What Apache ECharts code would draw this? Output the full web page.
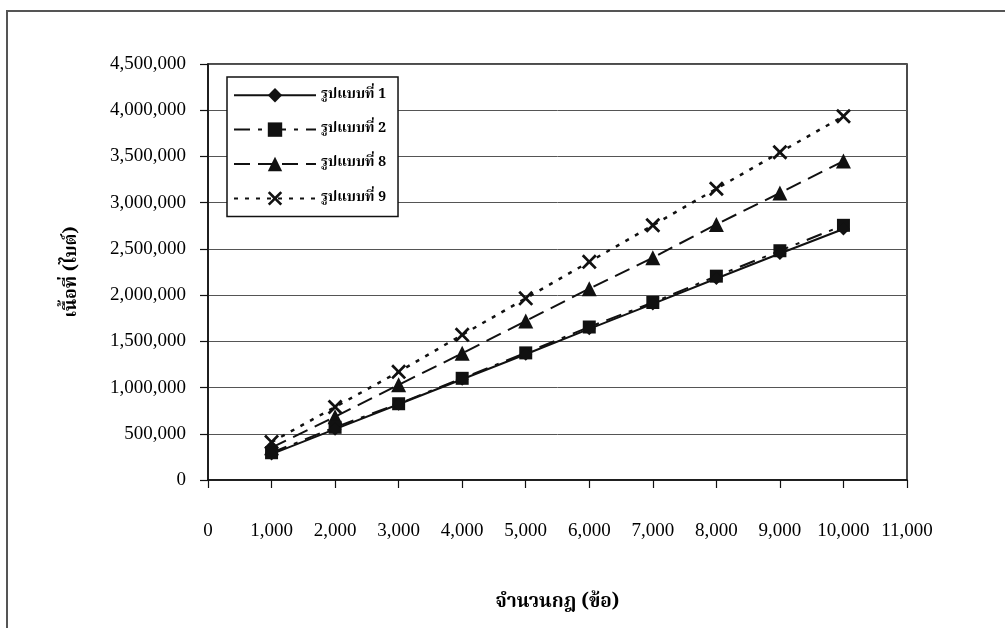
<!DOCTYPE html>
<html>
<head>
<meta charset="utf-8">
<script src="https://cdn.jsdelivr.net/npm/echarts@6/dist/echarts.min.js"></script>
<style>
  html, body { margin: 0; padding: 0; background: #fff; }
  #chart { width: 1005px; height: 628px; }
</style>
</head>
<body>
<div id="chart"></div>
<script>
// Number of rules (x) and memory used in bytes (y) for each pattern
const ruleCounts = [1000, 2000, 3000, 4000, 5000, 6000, 7000, 8000, 9000, 10000];
const pattern1 = [280000, 550000, 820000, 1090000, 1360000, 1635000, 1905000, 2180000, 2450000, 2715000];
const pattern2 = [295000, 570000, 825000, 1100000, 1375000, 1655000, 1920000, 2205000, 2480000, 2755000];
const pattern8 = [350000, 685000, 1030000, 1370000, 1720000, 2070000, 2405000, 2765000, 3105000, 3450000];
const pattern9 = [410000, 790000, 1170000, 1570000, 1965000, 2360000, 2755000, 3150000, 3545000, 3935000];

const seriesNames = ['รูปแบบที่ 1', 'รูปแบบที่ 2', 'รูปแบบที่ 8', 'รูปแบบที่ 9'];
const xAxisTitle = 'จำนวนกฎ (ข้อ)';
const yAxisTitle = 'เนื้อที่ (ไบต์)';

const xTickLabels = ['0', '1,000', '2,000', '3,000', '4,000', '5,000', '6,000', '7,000', '8,000', '9,000', '10,000', '11,000'];
const yTickLabels = ['0', '500,000', '1,000,000', '1,500,000', '2,000,000', '2,500,000', '3,000,000', '3,500,000', '4,000,000', '4,500,000'];

const SERIF = '"Liberation Serif", "DejaVu Serif", "Noto Serif Thai", "Noto Sans Thai", serif';
const THAI = '"Noto Serif Thai", "Noto Sans Thai", "Liberation Serif", serif';

const pairs = ys => ruleCounts.map((x, i) => [x, ys[i]]);

// filled X-shaped cross
const crossPath = 'path://M0,1.3 L1.3,0 L5,3.7 L8.7,0 L10,1.3 L6.3,5 L10,8.7 L8.7,10 L5,6.3 L1.3,10 L0,8.7 L3.7,5 Z';

const chart = echarts.init(document.getElementById('chart'), null, { renderer: 'canvas' });

chart.setOption({
  backgroundColor: '#fff',
  animation: false,
  graphic: [{
    type: 'rect',
    shape: { x: 7, y: 11, width: 1100, height: 700 },
    style: { fill: 'none', stroke: '#555', lineWidth: 2 },
    silent: true
  }],
  grid: {
    left: 208, right: 98, top: 64, bottom: 148,
    show: true, borderColor: '#111', borderWidth: 1.5, backgroundColor: 'transparent'
  },
  legend: {
    orient: 'vertical',
    left: 227, top: 77,
    data: seriesNames,
    itemWidth: 82, itemHeight: 18, itemGap: 20,
    padding: [11, 12, 11, 6],
    backgroundColor: '#fff',
    borderColor: '#111', borderWidth: 1.5,
    textStyle: { fontFamily: THAI, fontSize: 14, fontWeight: 'bold', color: '#000' }
  },
  xAxis: {
    type: 'value',
    min: 0, max: 11000, interval: 1000,
    name: xAxisTitle,
    nameLocation: 'middle',
    nameGap: 114,
    nameTextStyle: { fontFamily: THAI, fontSize: 19, fontWeight: 'bold', color: '#000' },
    axisLine: { show: true, lineStyle: { color: '#111', width: 1.5 } },
    axisTick: { show: true, length: 8, lineStyle: { color: '#111', width: 1.2 } },
    axisLabel: {
      margin: 42,
      fontFamily: SERIF, fontSize: 19, color: '#000',
      formatter: v => xTickLabels[Math.round(v / 1000)]
    },
    splitLine: { show: false }
  },
  yAxis: {
    type: 'value',
    min: 0, max: 4500000, interval: 500000,
    name: yAxisTitle,
    nameLocation: 'middle',
    nameRotate: 90,
    nameGap: 126,
    nameTextStyle: { fontFamily: THAI, fontSize: 18, fontWeight: 'bold', color: '#000' },
    axisLine: { show: true, lineStyle: { color: '#111', width: 1.5 } },
    axisTick: { show: true, length: 8, lineStyle: { color: '#111', width: 1.2 } },
    axisLabel: {
      margin: 22,
      fontFamily: SERIF, fontSize: 19, color: '#000',
      formatter: v => yTickLabels[Math.round(v / 500000)]
    },
    splitLine: { show: true, lineStyle: { color: '#555', width: 1 } }
  },
  series: [
    {
      name: seriesNames[0], type: 'line', data: pairs(pattern1), z: 5,
      symbol: 'diamond', symbolSize: 13,
      itemStyle: { color: '#111' },
      lineStyle: { color: '#111', width: 2, type: 'solid' }
    },
    {
      name: seriesNames[1], type: 'line', data: pairs(pattern2), z: 4,
      symbol: 'rect', symbolSize: 13,
      itemStyle: { color: '#111' },
      lineStyle: { color: '#111', width: 2, type: [16, 8, 4, 8] }
    },
    {
      name: seriesNames[2], type: 'line', data: pairs(pattern8), z: 3,
      symbol: 'triangle', symbolSize: 15,
      itemStyle: { color: '#111' },
      lineStyle: { color: '#111', width: 2, type: [16, 8] }
    },
    {
      name: seriesNames[3], type: 'line', data: pairs(pattern9), z: 2,
      symbol: crossPath, symbolSize: 15,
      itemStyle: { color: '#111' },
      lineStyle: { color: '#111', width: 2.5, type: [4, 7] }
    }
  ]
});
</script>
</body>
</html>
